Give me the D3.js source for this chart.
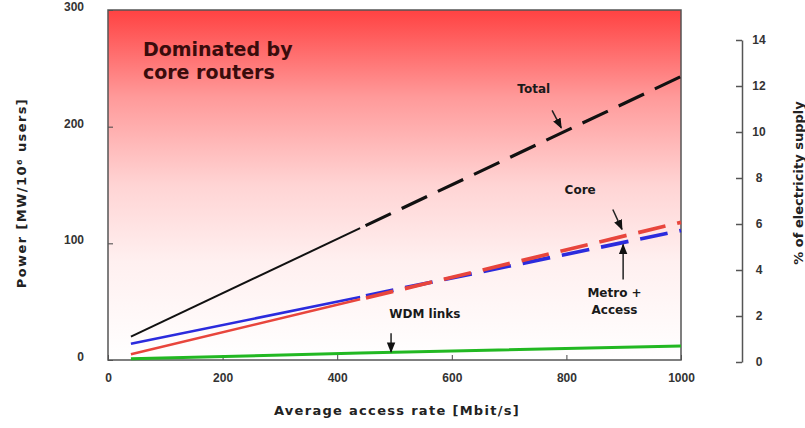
<!DOCTYPE html>
<html>
<head>
<meta charset="utf-8">
<script src="https://cdn.jsdelivr.net/npm/d3@7"></script>
<style>
  body { margin: 0; background: #fff; }
  svg { display: block; font-family: 'DejaVu Sans', Verdana, sans-serif; font-weight: bold; }
</style>
</head>
<body>
<svg id="chart" width="805" height="428"></svg>
<script>
// Values.
const rates = [40, 440, 1000];              // Mbit/s
const totalPower = [20, 113, 243];          // MW / 10^6 users
const corePower = [5, 52, 118];
const metroAccessPower = [14, 54, 111];
const wdmPower = [1, 6, 12];
const solidUntil = 440;                     // projections beyond this rate are dashed

const xTicks = [0, 200, 400, 600, 800, 1000];
const yTicks = [0, 100, 200, 300];
const pctTicks = [0, 2, 4, 6, 8, 10, 12, 14];

var svg = d3.select('#chart');

// Plot frame and scales.
const frame = { left: 108, right: 681, top: 10, bottom: 360 };
var x = d3.scaleLinear().domain([0, 1000]).range([frame.left, frame.right]);
var y = d3.scaleLinear().domain([0, 300]).range([frame.bottom, frame.top]);
var yPct = d3.scaleLinear().domain([0, 14]).range([362, 40]);

// Red-to-white background of the plot.
var defs = svg.append('defs');
var grad = defs.append('linearGradient').attr('id', 'bg')
    .attr('x1', 0).attr('y1', 0).attr('x2', 0).attr('y2', 1);
[[0, '#ff4242'], [0.25, '#ff9a9a'], [0.5, '#ffd4d4'], [0.72, '#fff0f0'], [1, '#ffffff']]
    .forEach(function(s) { grad.append('stop').attr('offset', s[0]).attr('stop-color', s[1]); });

defs.append('marker').attr('id', 'head')
    .attr('viewBox', '0 0 10 10').attr('refX', 9).attr('refY', 5)
    .attr('markerWidth', 7).attr('markerHeight', 7).attr('orient', 'auto')
  .append('path').attr('d', 'M0,1 L10,5 L0,9 Z').attr('fill', '#111');

svg.append('rect')
    .attr('x', frame.left).attr('y', frame.top)
    .attr('width', frame.right - frame.left).attr('height', frame.bottom - frame.top)
    .attr('fill', 'url(#bg)');

// Bottom axis: ticks point into the plot.
var xAxis = svg.append('g')
    .attr('transform', 'translate(0,' + frame.bottom + ')')
    .call(d3.axisBottom(x).tickValues(xTicks).tickFormat(d3.format('d'))
        .tickSizeInner(-5).tickSizeOuter(0).tickPadding(13));
xAxis.select('.domain').remove();
xAxis.selectAll('.tick line').attr('stroke', '#444');
xAxis.selectAll('text').attr('fill', '#333').style('font-size', '12px').style('font-weight', 'bold');

// Left axis.
var yAxis = svg.append('g')
    .attr('transform', 'translate(' + frame.left + ',0)')
    .call(d3.axisLeft(y).tickValues(yTicks).tickSizeInner(-5).tickSizeOuter(0).tickPadding(24));
yAxis.select('.domain').remove();
yAxis.selectAll('.tick line').attr('stroke', '#444');
yAxis.selectAll('text').attr('fill', '#333').attr('dy', '0.05em')
    .style('font-size', '12px').style('font-weight', 'bold');

// Right axis: share of electricity supply.
var pAxis = svg.append('g')
    .attr('transform', 'translate(742,0)')
    .call(d3.axisLeft(yPct).tickValues(pctTicks).tickSizeOuter(0).tickSizeInner(6).tickPadding(0));
pAxis.select('.domain').attr('stroke', '#555').attr('stroke-width', 1.5);
pAxis.selectAll('.tick line').attr('stroke', '#555').attr('stroke-width', 1.5);
pAxis.selectAll('text').attr('fill', '#333').attr('x', 17).attr('text-anchor', 'middle')
    .style('font-size', '12px').style('font-weight', 'bold');

// Frame border.
svg.append('rect')
    .attr('x', frame.left).attr('y', frame.top)
    .attr('width', frame.right - frame.left).attr('height', frame.bottom - frame.top)
    .attr('fill', 'none').attr('stroke', '#555').attr('stroke-width', 1.5);

// Series.
var series = [
    { values: wdmPower, color: '#22b822', width: 3, dashed: false },
    { values: metroAccessPower, color: '#2b2bdd', width: 2.5, dashed: true },
    { values: corePower, color: '#e8453c', width: 2.5, dashed: true },
    { values: totalPower, color: '#111111', width: 2, dashed: true }
];
var line = d3.line().x(function(d) { return x(d[0]); }).y(function(d) { return y(d[1]); });

series.forEach(function(s) {
    var pts = rates.map(function(r, i) { return [r, s.values[i]]; });
    if (!s.dashed) {
        svg.append('path').attr('d', line(pts)).attr('fill', 'none')
            .attr('stroke', s.color).attr('stroke-width', s.width);
        return;
    }
    var solid = pts.filter(function(p) { return p[0] <= solidUntil; });
    var dashed = pts.filter(function(p) { return p[0] >= solidUntil; });
    svg.append('path').attr('d', line(solid)).attr('fill', 'none')
        .attr('stroke', s.color).attr('stroke-width', s.width);
    svg.append('path').attr('d', line(dashed)).attr('fill', 'none')
        .attr('stroke', s.color).attr('stroke-width', s.width + 1.2)
        .attr('stroke-dasharray', '28,12').attr('stroke-dashoffset', -6);
});

// Annotations, anchored in data coordinates (rate, MW).
var labels = [
    { lines: ['Total'], at: [743, 229], arrow: [[775, 214], [791, 199]] },
    { lines: ['Core'], at: [824, 142], arrow: [[881, 129], [897, 112]] },
    { lines: ['Metro +', 'Access'], at: [884, 54], arrow: [[899, 69], [899, 99]] },
    { lines: ['WDM links'], at: [553, 36], arrow: [[494, 23], [494, 7]] }
];
labels.forEach(function(a) {
    var t = svg.append('text').attr('x', x(a.at[0])).attr('y', y(a.at[1]))
        .attr('text-anchor', 'middle').attr('fill', '#1a1a1a').style('font-size', '12px');
    a.lines.forEach(function(l, i) {
        t.append('tspan').attr('x', x(a.at[0])).attr('dy', i ? 17 : 0).text(l);
    });
    svg.append('line')
        .attr('x1', x(a.arrow[0][0])).attr('y1', y(a.arrow[0][1]))
        .attr('x2', x(a.arrow[1][0])).attr('y2', y(a.arrow[1][1]))
        .attr('stroke', '#222').attr('stroke-width', 1.5).attr('marker-end', 'url(#head)');
});

var dom = svg.append('text').attr('x', x(61)).attr('y', y(261))
    .attr('fill', '#3a0c0c').style('font-size', '19px');
dom.append('tspan').attr('x', x(61)).text('Dominated by');
dom.append('tspan').attr('x', x(61)).attr('dy', 23).text('core routers');

// Axis titles.
svg.append('text').attr('x', 397).attr('y', 415)
    .attr('text-anchor', 'middle').attr('fill', '#222')
    .style('font-size', '13px').style('letter-spacing', '1.3px')
    .text('Average access rate [Mbit/s]');

svg.append('text').attr('transform', 'translate(26,193) rotate(-90)')
    .attr('text-anchor', 'middle').attr('fill', '#222')
    .style('font-size', '13px').style('letter-spacing', '1.4px')
    .text('Power [MW/10\u2076 users]');

svg.append('text').attr('transform', 'translate(803,183) rotate(-90)')
    .attr('text-anchor', 'middle').attr('fill', '#222').style('font-size', '13px')
    .text('% of electricity supply');
</script>
</body>
</html>
